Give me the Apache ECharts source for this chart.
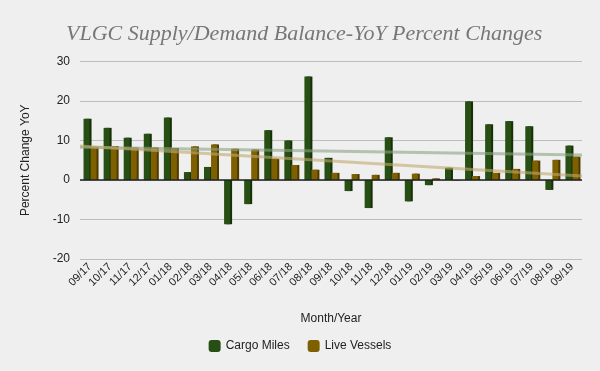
<!DOCTYPE html>
<html><head><meta charset="utf-8">
<script src="https://cdn.jsdelivr.net/npm/echarts@6/dist/echarts.min.js"></script>
<style>html,body{margin:0;padding:0;background:#efefef;}#c{width:600px;height:371px;}</style>
</head><body><div id="c"></div>
<script>
const months = ['09/17','10/17','11/17','12/17','01/18','02/18','03/18','04/18','05/18','06/18','07/18','08/18','09/18','10/18','11/18','12/18','01/19','02/19','03/19','04/19','05/19','06/19','07/19','08/19','09/19'];
const cargoMiles = [15.5,13.2,10.7,11.7,15.8,2.0,3.3,-11.2,-6.1,12.6,10.0,26.2,5.6,-2.8,-7.1,10.8,-5.4,-1.3,3.1,19.9,14.1,14.9,13.6,-2.5,8.7];
const liveVessels = [8.4,8.6,8.2,8.2,8.1,8.5,9.0,7.9,7.7,5.4,3.8,2.6,1.8,1.5,1.3,1.8,1.6,0.4,-0.1,1.0,1.8,2.8,4.9,5.1,5.9];
const trendCargo = [8.3, 6.3];
const trendVessels = [8.6, 1.0];
const yTicks = {min:-20, max:30, interval:10};

const chart = echarts.init(document.getElementById('c'), null, {renderer:'canvas'});
chart.setOption({
  backgroundColor:'#efefef',
  animation:false,
  title:{text:'VLGC Supply/Demand Balance-YoY Percent Changes', left:61, top:18,
    textStyle:{fontFamily:'Liberation Serif', fontStyle:'italic', fontWeight:'normal', fontSize:22, color:'#777777'}},
  legend:{data:['Cargo Miles','Live Vessels'], bottom:14, left:'center', icon:'roundRect', itemWidth:12, itemHeight:12, itemGap:18,
    textStyle:{fontFamily:'Liberation Sans', fontSize:12, color:'#222'}},
  grid:{left:80, right:18, top:61.5, bottom:112},
  xAxis:[{type:'category', data:months, axisLine:{show:false}, axisTick:{show:false},
      axisLabel:{rotate:45, fontSize:11, color:'#222', fontFamily:'Liberation Sans', interval:0, margin:6},
      name:'Month/Year', nameLocation:'middle', nameGap:54,
      nameTextStyle:{fontFamily:'Liberation Sans', fontSize:12, color:'#222'}},
    {type:'value', min:0, max:1, show:false}],
  yAxis:{type:'value', min:yTicks.min, max:yTicks.max, interval:yTicks.interval,
    axisLine:{show:false}, axisTick:{show:false},
    axisLabel:{fontSize:12, color:'#222', fontFamily:'Liberation Sans', margin:10},
    splitLine:{lineStyle:{color:'#bdbdbd', width:1}},
    name:'Percent Change YoY', nameLocation:'middle', nameGap:48,
    nameTextStyle:{fontFamily:'Liberation Sans', fontSize:12, color:'#222'}},
  series:[
    {name:'Cargo Miles', type:'bar', data:cargoMiles, barWidth:6, barGap:'17%',
      itemStyle:{color:'#274e13', shadowColor:'#163009', shadowOffsetX:2, shadowOffsetY:0, shadowBlur:0},
      markLine:{silent:true, symbol:'none', label:{show:false}, lineStyle:{color:'#222', type:'solid', width:1.5}, data:[{yAxis:0}]}},
    {name:'Live Vessels', type:'bar', data:liveVessels, barWidth:6,
      itemStyle:{color:'#7f6000', shadowColor:'#4d3a00', shadowOffsetX:2, shadowOffsetY:0, shadowBlur:0}},
    {name:'trendC', type:'line', xAxisIndex:1, data:[[0,trendCargo[0]],[1,trendCargo[1]]], symbol:'none', z:5,
      lineStyle:{color:'#8aa383', width:3, opacity:0.6}},
    {name:'trendV', type:'line', xAxisIndex:1, data:[[0,trendVessels[0]],[1,trendVessels[1]]], symbol:'none', z:5,
      lineStyle:{color:'#c2a86e', width:3, opacity:0.6}}
  ]
});
</script></body></html>
